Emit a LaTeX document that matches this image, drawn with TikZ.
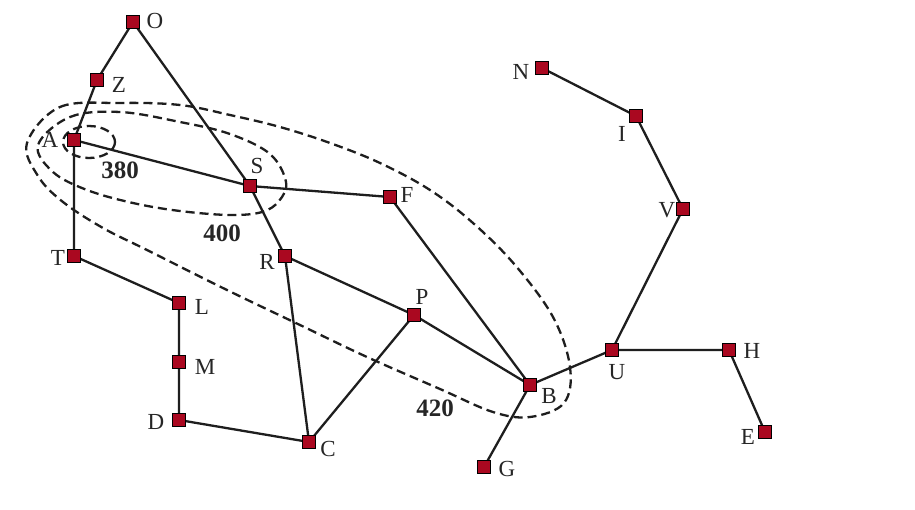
\documentclass[tikz,border=0pt]{standalone}
\usepackage{fontspec}
\setmainfont{Liberation Serif}
\definecolor{citycol}{RGB}{170,8,32}
\definecolor{roadcol}{RGB}{30,30,30}
\begin{document}
\begin{tikzpicture}[x=1pt,y=-1pt,
  city/.style={rectangle,draw=black,line width=0.5pt,fill=citycol,minimum size=13pt,inner sep=0pt},
  road/.style={draw=roadcol,line width=2.3pt},
  contour/.style={draw=roadcol,line width=2.3pt,dash pattern=on 9pt off 5pt},
  lab/.style={font=\fontsize{23}{23}\selectfont,text=black!85,inner sep=0pt},
  num/.style={font=\fontsize{25}{25}\selectfont\bfseries,text=black!85,inner sep=0pt}]
\fill[white] (0,0) rectangle (915,509);
\useasboundingbox (0,0) rectangle (915,509);
% coordinates
\coordinate (O) at (133,22);
\coordinate (Z) at (97,80);
\coordinate (A) at (74,140);
\coordinate (S) at (250,186);
\coordinate (F) at (390,197);
\coordinate (R) at (285,256);
\coordinate (P) at (414,315);
\coordinate (B) at (530,385);
\coordinate (G) at (484,467);
\coordinate (C) at (309,442);
\coordinate (D) at (179,420);
\coordinate (M) at (179,362);
\coordinate (L) at (179,303);
\coordinate (T) at (74,256);
\coordinate (U) at (612,350);
\coordinate (H) at (729,350);
\coordinate (E) at (765,432);
\coordinate (V) at (683,209);
\coordinate (I) at (636,116);
\coordinate (N) at (542,68);
% roads
\draw[road] (O)--(Z) (O)--(S) (Z)--(A) (A)--(S) (A)--(T) (T)--(L) (L)--(M) (M)--(D) (D)--(C)
  (C)--(R) (C)--(P) (R)--(S) (R)--(P) (S)--(F) (F)--(B) (P)--(B) (B)--(G) (B)--(U)
  (U)--(H) (H)--(E) (U)--(V) (V)--(I) (I)--(N);
% contours
\draw[contour] (89,142) ellipse [x radius=26, y radius=16];
\draw[contour] plot[smooth cycle, tension=0.6] coordinates {(38,145) (70,117) (120,112) (180,122) (230,134) (270,154) (286,182) (279,201) (262,212) (230,215) (180,211) (133,203) (87,190) (53,172)};
\draw[contour] plot[smooth cycle, tension=0.6] coordinates {(27,143) (60,107) (120,103) (180,105) (230,115) (280,127) (330,143) (380,163) (430,190) (473,223) (515,265) (553,317) (570,367) (564,403) (530,417) (493,412) (440,389) (367,357) (300,325) (227,290) (147,250) (103,228) (63,202) (38,176)};
% cities
\foreach \c in {O,Z,A,S,F,R,P,B,G,C,D,M,L,T,U,H,E,V,I,N}
  \node[city] (n\c) at (\c) {};
% labels
\node[lab] (lO) at (155,21) {O};
\node[lab] (lZ) at (119,85) {Z};
\node[lab] (lA) at (50,140) {A};
\node[lab] (lS) at (257,166) {S};
\node[lab] (lF) at (407,195) {F};
\node[lab] (lR) at (267,262) {R};
\node[lab] (lP) at (422,297) {P};
\node[lab] (lB) at (549,396) {B};
\node[lab] (lG) at (507,469) {G};
\node[lab] (lC) at (328,449) {C};
\node[lab] (lD) at (156,422) {D};
\node[lab] (lM) at (205,367) {M};
\node[lab] (lL) at (202,307) {L};
\node[lab] (lT) at (58,258) {T};
\node[lab] (lU) at (617,372) {U};
\node[lab] (lH) at (752,351) {H};
\node[lab] (lE) at (748,437) {E};
\node[lab] (lV) at (667,210) {V};
\node[lab] (lI) at (622,134) {I};
\node[lab] (lN) at (521,72) {N};
\node[num] (n380) at (120,170) {380};
\node[num] (n400) at (222,233) {400};
\node[num] (n420) at (435,408) {420};
\end{tikzpicture}
\end{document}
